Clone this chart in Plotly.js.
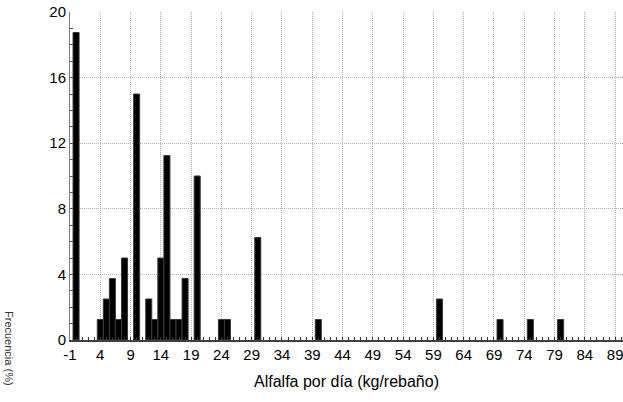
<!DOCTYPE html>
<html>
<head>
<meta charset="utf-8">
<script src="https://cdn.plot.ly/plotly-3.0.1.min.js"></script>
<style>
html,body{margin:0;padding:0;background:#fff;}
#chart{width:623px;height:402px;}
</style>
</head>
<body>
<div id="chart"></div>
<script>
// Alfalfa per day (kg/herd) — bin centres and percentage of herds
const binCenters = [0, 4, 5, 6, 7, 8, 10, 12, 13, 14, 15, 16, 17, 18, 20, 24, 25, 30, 40, 60, 70, 75, 80];
const percentages = [18.75, 1.25, 2.5, 3.75, 1.25, 5, 15, 2.5, 1.25, 5, 11.25, 1.25, 1.25, 3.75, 10, 1.25, 1.25, 6.25, 1.25, 2.5, 1.25, 1.25, 1.25];
const xTickValues = [-1, 4, 9, 14, 19, 24, 29, 34, 39, 44, 49, 54, 59, 64, 69, 74, 79, 84, 89];
const yTickValues = [0, 4, 8, 12, 16, 20];
const xTitle = "Alfalfa por día (kg/rebaño)";
const yTitle = "Frecuencia (%)";

const trace = {
  type: 'bar',
  x: binCenters,
  y: percentages,
  width: 1,
  marker: {color: '#000000', line: {color: '#3a3a3a', width: 1}},
  hoverinfo: 'x+y'
};

const fam = '"Liberation Sans", Arial, sans-serif';

const layout = {
  width: 623, height: 402,
  margin: {l: 70, r: 0, t: 12, b: 62, pad: 0},
  paper_bgcolor: '#fff', plot_bgcolor: '#fff',
  font: {family: fam, size: 15, color: '#000'},
  showlegend: false,
  bargap: 0,
  xaxis: {
    range: [-1, 90.3],
    tickmode: 'array',
    tickvals: xTickValues,
    ticktext: xTickValues.map(String),
    ticks: 'inside', ticklen: 3, tickcolor: '#333', tickwidth: 1,
    minor: {dtick: 1, tick0: -1, ticks: 'inside', ticklen: 3, tickcolor: '#333', showgrid: false},
    showgrid: true, gridcolor: '#b4b4b4', griddash: '1px,1px', gridwidth: 1,
    showline: true, linecolor: '#404040', linewidth: 2,
    zeroline: false,
    ticklabeloverflow: 'allow',
    tickfont: {family: fam, size: 15, color: '#000'},
    title: {text: xTitle, font: {family: fam, size: 16, color: '#000'}, standoff: 14},
    automargin: false
  },
  yaxis: {
    range: [0, 20],
    tickmode: 'array',
    tickvals: yTickValues,
    ticktext: yTickValues.map(String),
    ticks: 'inside', ticklen: 3, tickcolor: '#555', tickwidth: 1,
    minor: {dtick: 1, tick0: 0, ticks: 'inside', ticklen: 3, tickcolor: '#555', showgrid: false},
    showgrid: true, gridcolor: '#b4b4b4', griddash: '1px,1px', gridwidth: 1,
    showline: true, linecolor: '#808080', linewidth: 1,
    zeroline: false,
    ticklabeloverflow: 'allow',
    tickfont: {family: fam, size: 15, color: '#000'},
    automargin: false
  },
  annotations: [{
    text: yTitle,
    xref: 'paper', yref: 'paper',
    x: (1 - 70) / 553, y: (340 - 348) / 328,
    xanchor: 'left', yanchor: 'middle',
    textangle: 90,
    showarrow: false,
    font: {family: fam, size: 11, color: '#333'}
  }]
};

Plotly.newPlot('chart', [trace], layout, {displayModeBar: false, staticPlot: true});
</script>
</body>
</html>
